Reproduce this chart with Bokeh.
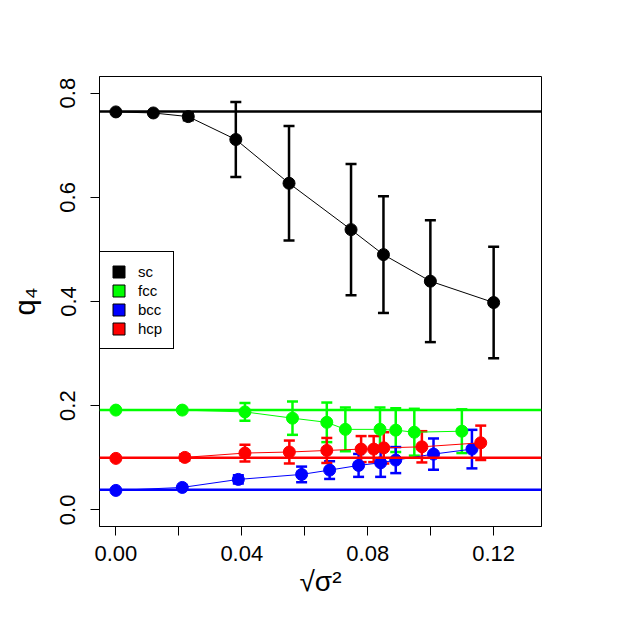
from bokeh.plotting import figure
from bokeh.models import (ColumnDataSource, Range1d, FixedTicker, Span, Whisker,
                          TeeHead, Legend, LegendItem, CustomJSTickFormatter)
from bokeh.embed import file_html
from bokeh.resources import INLINE

# ---- data ----
series_names = ["sc", "fcc", "bcc", "hcp"]
series_colors = ["black", "#00FF00", "#0000FF", "#FF0000"]

sc_x = [0.0, 0.0119, 0.0230, 0.0381, 0.0550, 0.0747, 0.0850, 0.0999, 0.1200]
sc_y = [0.764, 0.762, 0.755, 0.711, 0.627, 0.538, 0.490, 0.439, 0.398]
sc_err = [0.0, 0.0, 0.007, 0.072, 0.110, 0.126, 0.112, 0.117, 0.107]

fcc_x = [0.0, 0.0211, 0.0410, 0.0561, 0.0670, 0.0729, 0.0839, 0.0889, 0.0948, 0.1099]
fcc_y = [0.1915, 0.1915, 0.188, 0.176, 0.168, 0.1545, 0.1545, 0.153, 0.149, 0.151]
fcc_err = [0.0, 0.0, 0.017, 0.032, 0.038, 0.042, 0.042, 0.042, 0.045, 0.042]

bcc_x = [0.0, 0.0211, 0.0389, 0.0590, 0.0679, 0.0771, 0.0841, 0.0889, 0.1009, 0.1131]
bcc_y = [0.0373, 0.043, 0.0584, 0.068, 0.0763, 0.0853, 0.0903, 0.0955, 0.107, 0.1166]
bcc_err = [0.0, 0.0, 0.008, 0.015, 0.017, 0.022, 0.027, 0.025, 0.030, 0.037]

hcp_x = [0.0, 0.0219, 0.0410, 0.0551, 0.0670, 0.0779, 0.0819, 0.0851, 0.0972, 0.1159]
hcp_y = [0.0988, 0.1007, 0.109, 0.111, 0.114, 0.1166, 0.1166, 0.119, 0.121, 0.1287]
hcp_err = [0.0, 0.006, 0.016, 0.022, 0.024, 0.025, 0.025, 0.030, 0.030, 0.033]

ref_values = [0.7647, 0.1915, 0.0384, 0.0999]

x_major_ticks = [0.0, 0.04, 0.08, 0.12]
x_minor_ticks = [0.02, 0.06, 0.10]
y_ticks = [0.0, 0.2, 0.4, 0.6, 0.8]

FONT = "Liberation Sans"

p = figure(width=610, height=610, output_backend="svg", toolbar_location=None,
           x_range=Range1d(-0.0052, 0.1352), y_range=Range1d(-0.032, 0.832),
           min_border_left=99, min_border_right=69, min_border_top=76,
           min_border_bottom=84)
p.background_fill_color = "white"
p.border_fill_color = "white"
p.outline_line_color = "black"
p.outline_line_width = 1
p.outline_line_alpha = 1
p.xgrid.visible = False
p.ygrid.visible = False

p.xaxis.ticker = FixedTicker(ticks=x_major_ticks, minor_ticks=x_minor_ticks)
p.yaxis.ticker = FixedTicker(ticks=y_ticks)
for ax in (p.xaxis[0], p.yaxis[0]):
    ax.major_tick_out = 9
    ax.major_tick_in = 0
    ax.minor_tick_out = 9
    ax.minor_tick_in = 0
    ax.major_tick_line_color = "black"
    ax.minor_tick_line_color = "black"
    ax.axis_line_color = "black"
    ax.major_label_text_font = FONT
    ax.major_label_text_font_size = "22px"
    ax.major_label_text_color = "black"
    ax.axis_label_text_font = FONT
    ax.axis_label_text_font_style = "normal"
    ax.axis_label_text_color = "black"
p.yaxis.minor_tick_line_color = None
p.xaxis.formatter = CustomJSTickFormatter(code="return tick.toFixed(2);")
p.yaxis.formatter = CustomJSTickFormatter(code="return tick.toFixed(1);")
p.yaxis.major_label_orientation = "vertical"
p.xaxis.major_label_standoff = 10
p.yaxis.major_label_standoff = 15
p.xaxis.axis_label = "√σ²"
p.yaxis.axis_label = "q₄"
p.xaxis.axis_label_text_font_size = "28px"
p.yaxis.axis_label_text_font_size = "29px"
p.xaxis.axis_label_standoff = 2
p.yaxis.axis_label_standoff = 17

all_x = [sc_x, fcc_x, bcc_x, hcp_x]
all_y = [sc_y, fcc_y, bcc_y, hcp_y]
all_err = [sc_err, fcc_err, bcc_err, hcp_err]

# reference lines
for val, col in zip(ref_values, series_colors):
    p.add_layout(Span(location=val, dimension="width", line_color=col, line_width=2.5))

legend_items = []
for name, col, xs, ys, es in zip(series_names, series_colors, all_x, all_y, all_err):
    src = ColumnDataSource(dict(x=xs, y=ys))
    p.line("x", "y", source=src, line_color=col, line_width=1)
    p.scatter("x", "y", source=src, size=12, fill_color=col, line_color=col, marker="circle")
    keep = [i for i, e in enumerate(es) if e > 0]
    wsrc = ColumnDataSource(dict(
        x=[xs[i] for i in keep],
        upper=[ys[i] + es[i] for i in keep],
        lower=[ys[i] - es[i] for i in keep]))
    w = Whisker(base="x", upper="upper", lower="lower", source=wsrc, dimension="height",
                line_color=col, line_width=2.5,
                upper_head=TeeHead(size=11, line_color=col, line_width=2.5),
                lower_head=TeeHead(size=11, line_color=col, line_width=2.5))
    p.add_layout(w)
    # legend swatch (renderer with a single NaN entry, so nothing appears in the plot)
    nan = float("nan")
    r = p.quad(left=[nan], right=[nan], top=[nan], bottom=[nan], fill_color=col,
               line_color="black", line_width=1)
    legend_items.append(LegendItem(label=name, renderers=[r]))

legend = Legend(items=legend_items, location=(0, 177), orientation="vertical")
legend.margin = 0
legend.padding = 11
legend.spacing = 2
legend.glyph_width = 15
legend.glyph_height = 15
legend.label_height = 15
legend.label_standoff = 12
legend.label_text_font = FONT
legend.label_text_font_size = "15px"
legend.label_text_color = "black"
legend.border_line_color = "black"
legend.border_line_width = 1
legend.border_line_alpha = 1
legend.background_fill_color = "white"
legend.background_fill_alpha = 1
p.add_layout(legend, "center")

open("out.html", "w").write(file_html(p, INLINE))
